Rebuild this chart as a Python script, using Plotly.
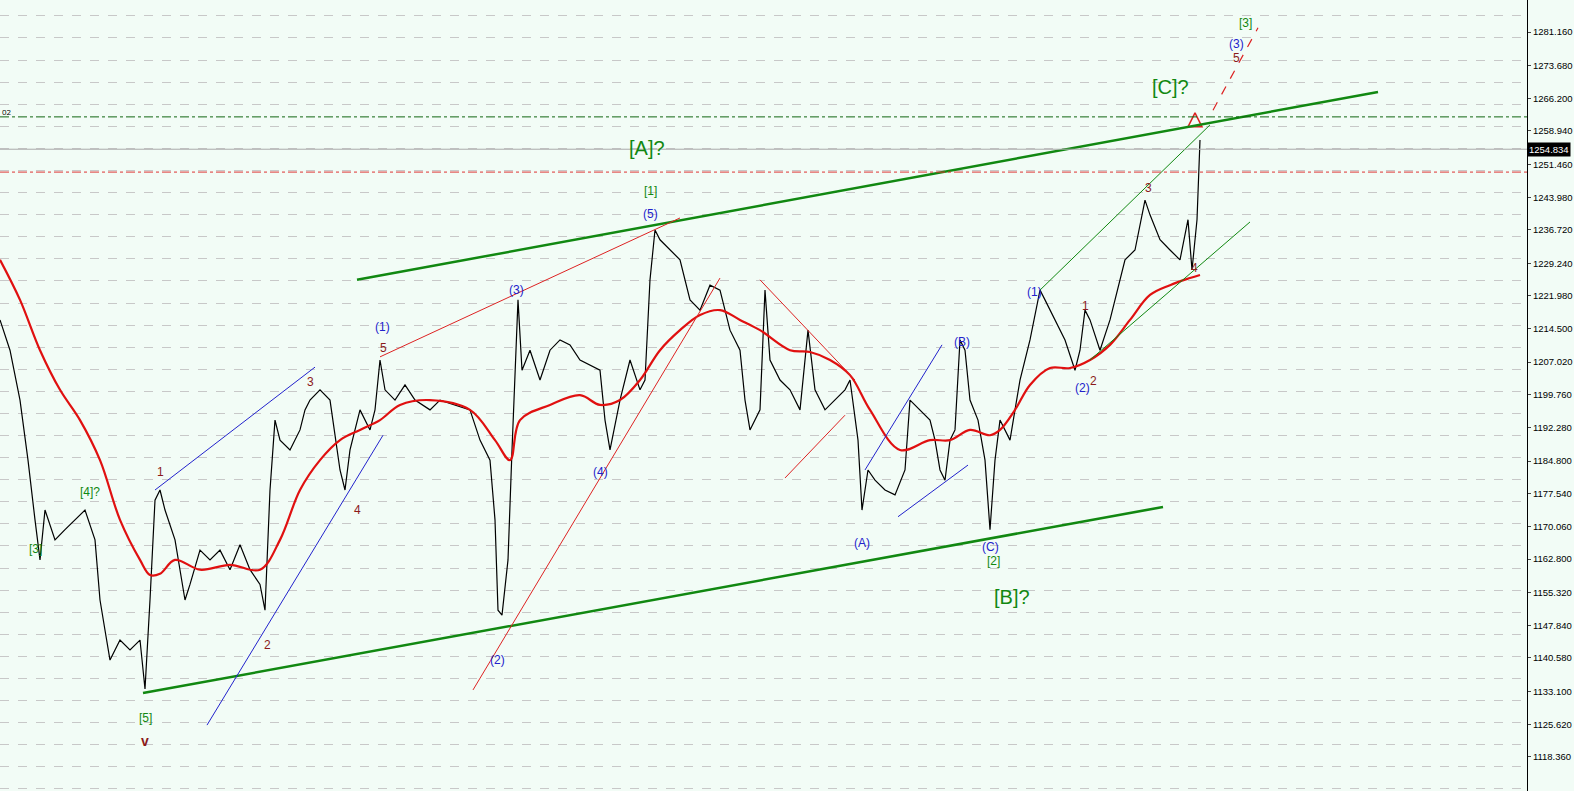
import plotly.graph_objects as go

# price path (bar index, price)
bar = [0, 10, 20, 28, 35, 40, 45, 55, 65, 75, 85, 95, 100, 105, 110, 120, 130, 140, 145, 150, 155, 160, 165, 175,
       185, 190, 200, 210, 220, 230, 240, 250, 260, 265, 270, 275, 280, 290, 300, 305, 310, 320, 330, 340, 345, 350,
       360, 370, 375, 380, 385, 395, 405, 415, 430, 440, 455, 470, 480, 490, 495, 498, 502, 508, 512, 518, 522, 530,
       540, 550, 560, 570, 580, 590, 600, 605, 610, 620, 630, 640, 645, 650, 655, 660, 670, 680, 690, 700, 710, 720,
       730, 740, 745, 750, 760, 765, 770, 780, 790, 800, 808, 815, 825, 835, 845, 850, 858, 862, 868, 875, 885, 895,
       905, 910, 920, 930, 935, 940, 945, 950, 955, 960, 965, 970, 978, 985, 990, 995, 1000, 1010, 1015, 1020, 1030,
       1040, 1045, 1055, 1065, 1075, 1080, 1085, 1090, 1100, 1110, 1115, 1125, 1135, 1145, 1150, 1160, 1170, 1180,
       1188, 1192, 1197, 1200]
price = [1216.5, 1209.7, 1198.5, 1185.0, 1171.6, 1162.6, 1173.8, 1167.1, 1169.4, 1171.6, 1173.8, 1167.1, 1153.6,
         1146.8, 1140.1, 1144.6, 1142.4, 1144.6, 1133.6, 1153.6, 1176.0, 1178.3, 1173.8, 1167.1, 1153.6, 1157.1,
         1164.8, 1162.6, 1164.8, 1160.4, 1166.0, 1160.4, 1157.1, 1151.3, 1178.3, 1194.0, 1189.5, 1187.3, 1191.8,
         1196.3, 1198.5, 1200.8, 1198.5, 1182.8, 1178.3, 1187.3, 1196.3, 1191.8, 1196.3, 1207.5, 1200.8, 1198.5,
         1201.9, 1198.5, 1196.3, 1198.5, 1197.4, 1196.3, 1189.5, 1185.0, 1171.6, 1151.3, 1150.2, 1162.6, 1187.3,
         1221.0, 1205.2, 1209.7, 1203.0, 1209.7, 1212.0, 1210.9, 1207.5, 1206.4, 1205.2, 1194.0, 1187.3, 1198.5,
         1207.5, 1200.8, 1203.0, 1225.5, 1236.7, 1234.5, 1232.2, 1230.0, 1221.0, 1218.7, 1224.3, 1223.2, 1214.2,
         1209.7, 1198.5, 1191.8, 1196.3, 1223.2, 1207.5, 1203.0, 1200.8, 1196.3, 1214.2, 1200.8, 1196.3, 1198.5,
         1200.8, 1203.0, 1189.5, 1173.8, 1182.8, 1180.5, 1178.3, 1177.2, 1182.8, 1198.5, 1196.3, 1194.0, 1189.5,
         1182.8, 1180.5, 1189.5, 1191.8, 1212.0, 1209.7, 1198.5, 1194.0, 1185.0, 1169.4, 1185.0, 1194.0, 1189.5,
         1196.3, 1203.0, 1212.0, 1223.2, 1221.0, 1216.5, 1212.0, 1205.2, 1209.7, 1218.7, 1216.5, 1209.7, 1216.5,
         1221.0, 1230.0, 1232.2, 1243.4, 1240.1, 1234.5, 1232.2, 1230.0, 1239.0, 1227.7, 1239.0, 1256.9]

# moving average
ma_bar = [0, 20, 40, 60, 80, 100, 120, 140, 150, 160, 175, 200, 230, 260, 280, 300, 320, 340, 360, 380, 400, 430,
          470, 495, 510, 520, 550, 580, 600, 620, 640, 660, 680, 700, 720, 740, 760, 790, 810, 830, 850, 870, 900,
          930, 950, 970, 990, 1000, 1015, 1030, 1050, 1070, 1090, 1110, 1130, 1150, 1170, 1190, 1200]
ma = [1230.0, 1221.0, 1209.7, 1200.8, 1194.0, 1185.0, 1171.6, 1162.6, 1159.2, 1159.5, 1162.6, 1160.4, 1161.5,
      1160.4, 1167.1, 1178.3, 1185.0, 1189.5, 1191.8, 1194.0, 1197.4, 1198.5, 1196.3, 1189.5, 1185.0, 1194.0,
      1197.4, 1199.6, 1197.4, 1198.5, 1203.0, 1209.7, 1214.2, 1217.6, 1218.7, 1216.5, 1214.2, 1209.7, 1209.3,
      1207.5, 1204.1, 1196.3, 1187.3, 1189.5, 1189.5, 1191.8, 1190.6, 1191.8, 1196.3, 1201.9, 1205.7, 1205.7,
      1207.5, 1210.9, 1216.5, 1222.1, 1224.3, 1225.9, 1226.6]

# trend lines: (x0, p0, x1, p1, colour, width, dash)
trend = [
    (357, 1225.5, 1378, 1267.7, "#118811", 2.5, "solid"),
    (143, 1132.7, 1163, 1174.5, "#118811", 2.5, "solid"),
    (155, 1178.3, 315, 1205.9, "#2222cc", 1, "solid"),
    (207, 1125.5, 383, 1190.6, "#2222cc", 1, "solid"),
    (380, 1208.2, 680, 1239.4, "#dd2222", 1, "solid"),
    (473, 1133.4, 720, 1225.9, "#dd2222", 1, "solid"),
    (760, 1225.5, 855, 1203.0, "#dd2222", 1, "solid"),
    (785, 1181.0, 845, 1195.1, "#dd2222", 1, "solid"),
    (865, 1182.8, 942, 1210.9, "#2222cc", 1, "solid"),
    (898, 1172.3, 968, 1183.9, "#2222cc", 1, "solid"),
    (1040, 1223.2, 1210, 1260.3, "#118811", 1, "solid"),
    (1090, 1207.5, 1250, 1238.5, "#118811", 1, "solid"),
    (1213, 1263.6, 1258, 1282.1, "#dd2222", 1.2, "dash"),
]

# horizontal levels
level_green = 1262.1
level_red = 1249.7
last_price = 1254.834

# wave labels: (x, price, text, colour, size)
G, B, R = "#118811", "#2222cc", "#8b1a1a"
labels = [
    (35, 1165.1, "[3]", G, 12), (90, 1177.8, "[4]?", G, 12), (145, 1127.2, "[5]", G, 12), (145, 1122.0, "<b>v</b>", R, 14),
    (160, 1182.3, "1", R, 12), (267, 1143.5, "2", R, 12), (310, 1202.6, "3", R, 12), (357, 1173.8, "4", R, 12),
    (382, 1214.9, "(1)", B, 12), (383, 1210.2, "5", R, 12), (516, 1223.2, "(3)", B, 12), (497, 1140.1, "(2)", B, 12),
    (600, 1182.3, "(4)", B, 12), (650, 1240.3, "(5)", B, 12), (650, 1245.5, "[1]", G, 12), (647, 1255.1, "[A]?", G, 20),
    (862, 1166.4, "(A)", B, 12), (962, 1211.5, "(B)", B, 12), (990, 1165.5, "(C)", B, 12), (993, 1162.3, "[2]", G, 12),
    (1012, 1154.3, "[B]?", G, 20), (1034, 1222.8, "(1)", B, 12), (1085, 1219.6, "1", R, 12), (1082, 1201.2, "(2)", B, 12),
    (1093, 1202.8, "2", R, 12), (1148, 1246.1, "3", R, 12), (1194, 1228.2, "4", R, 12), (1170, 1268.8, "[C]?", G, 20),
    (1236, 1275.3, "5", R, 12), (1236, 1278.5, "(3)", B, 12), (1245, 1283.2, "[3]", G, 12),
]

tick_vals = [1118.36, 1125.62, 1133.10, 1140.58, 1147.84, 1155.32, 1162.80, 1170.06, 1177.54, 1184.80,
             1192.28, 1199.76, 1207.02, 1214.50, 1221.98, 1229.24, 1236.72, 1243.98, 1251.46, 1258.94, 1266.20,
             1273.68, 1281.16]

fig = go.Figure()
fig.add_trace(go.Scatter(x=bar, y=price, mode="lines", line=dict(color="black", width=1.2), hoverinfo="skip"))
fig.add_trace(go.Scatter(x=ma_bar, y=ma, mode="lines", line=dict(color="#e01010", width=2.2, shape="spline"),
                         hoverinfo="skip"))

for x0, p0, x1, p1, c, w, d in trend:
    fig.add_shape(type="line", x0=x0, y0=p0, x1=x1, y1=p1, line=dict(color=c, width=w, dash=d))

fig.add_hline(y=level_green, line=dict(color="#116611", width=1, dash="dashdot"))
fig.add_hline(y=level_red, line=dict(color="#dd3333", width=1, dash="dashdot"))
fig.add_hline(y=last_price, line=dict(color="#aaaaaa", width=1))

# small up-arrow near the top of the last move
fig.add_trace(go.Scatter(x=[1195], y=[1263.0], mode="markers",
                         marker=dict(symbol="arrow-up", size=14, color="rgba(0,0,0,0)",
                                     line=dict(color="#dd2222", width=1.5)), hoverinfo="skip"))

for x, p, t, c, s in labels:
    fig.add_annotation(x=x, y=p, text=t, showarrow=False, font=dict(color=c, size=s, family="Liberation Sans"))

fig.add_annotation(x=1, y=last_price, xref="paper", text="1254.834", showarrow=False, xanchor="left",
                   bgcolor="black", font=dict(color="white", size=9.5, family="Liberation Sans"), borderpad=1)
fig.add_annotation(x=0, y=level_green + 1.2, xref="paper", text="02", showarrow=False, xanchor="left",
                   font=dict(color="black", size=8))

fig.update_layout(
    width=1574, height=791, showlegend=False,
    margin=dict(l=0, r=47, t=0, b=0),
    paper_bgcolor="#f2fcf6", plot_bgcolor="#f2fcf6",
    xaxis=dict(range=[0, 1527], visible=False),
    yaxis=dict(range=[1110.7, 1288.35], side="right", tickvals=tick_vals, automargin=False,
               ticktext=["%.3f" % v for v in tick_vals], ticks="outside", ticklen=3,
               showline=True, linecolor="black", mirror=False, showgrid=False, zeroline=False,
               tickfont=dict(size=9.5, family="Liberation Sans", color="black")),
    yaxis2=dict(range=[1110.7, 1288.35], overlaying="y", side="left", tick0=1279.82, dtick=4.96,
                automargin=False, showticklabels=False, ticks="", gridcolor="#c8c8c8", griddash="dash",
                zeroline=False),
)
# invisible trace to attach the grid axis
fig.add_trace(go.Scatter(x=[0], y=[1200], yaxis="y2", mode="markers", marker=dict(opacity=0), hoverinfo="skip"))

fig.write_html("out.html", config={"displayModeBar": False}, post_script="document.body.style.margin='0';")
